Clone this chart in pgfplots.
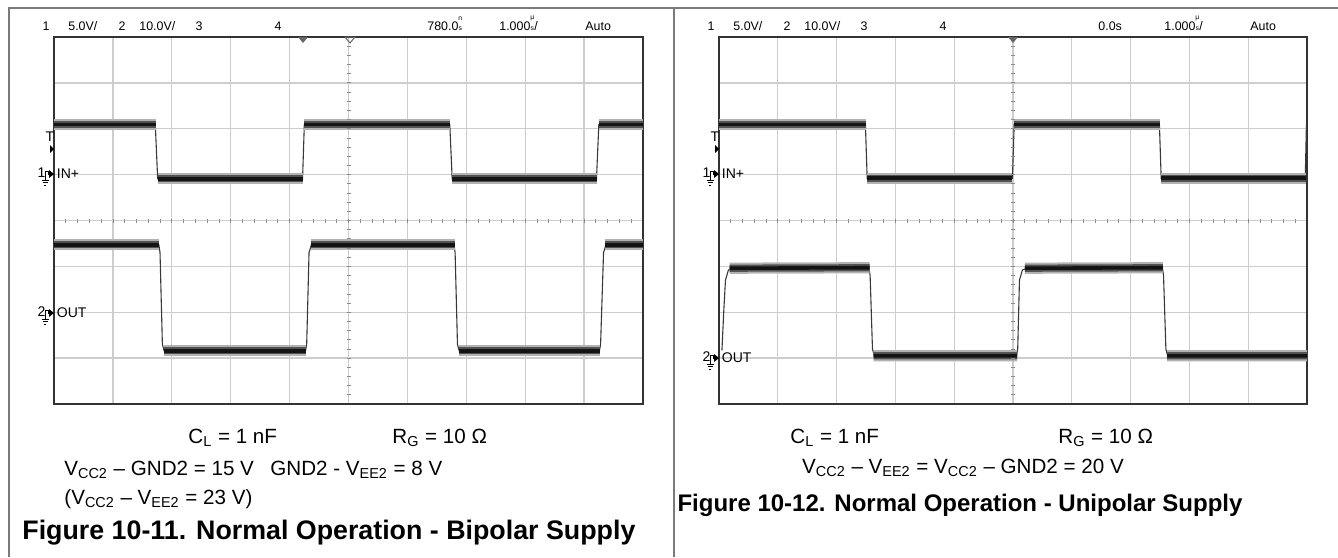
\documentclass[border=0pt]{standalone}
\usepackage{fontspec}
\setmainfont{Liberation Sans}
\usepackage{pgfplots}
\usepackage{pgfplotstable}
\pgfplotsset{compat=1.18}
\definecolor{gridc}{HTML}{CDCDCD}
\definecolor{framec}{HTML}{7A7A7A}
\newcommand\stk[2]{\raisebox{0.1ex}{\fontsize{3.4pt}{3.4pt}\selectfont\shortstack{#1\\#2}}}
\newcommand\hdr{\fontsize{6.2pt}{7pt}\selectfont}
\newcommand\lbl{\fontsize{7pt}{8pt}\selectfont}
\newcommand\body{\fontsize{10.3pt}{12pt}\selectfont}

\pgfplotsset{oscope/.style={
  scale only axis, width=294.5pt, height=183.5pt,
  xmin=0, xmax=10, ymin=-4, ymax=4,
  xtick={0,...,10}, ytick={-4,...,4},
  xticklabels={}, yticklabels={}, major tick length=0pt,
  grid=major, major grid style={gridc, line width=0.65pt},
  axis line style={draw=black!80, line width=0.9pt},
  anchor=north west, clip=true, unbounded coords=jump,
},
fuzz/.style={draw=black!30, line width=5.6pt, line cap=butt},
band/.style={draw=black!68, line width=3.6pt, line cap=butt},
core/.style={draw=black!92, line width=1.8pt, line cap=butt},
edge/.style={draw=black!78, line width=0.55pt},
}

% ---------- Figure 10-11 (bipolar) ----------
\pgfplotstableread{
x y
0 2.09
1.72 2.09
1.76 0.91
4.22 0.91
4.25 2.09
6.72 2.09
6.76 0.91
9.21 0.91
9.25 2.09
10 2.09
}\LAfull
\pgfplotstableread{
x y
0 2.09
1.73 2.09
1.74 nan
1.76 0.91
4.22 0.91
4.23 nan
4.25 2.09
6.73 2.09
6.74 nan
6.76 0.91
9.22 0.91
9.23 nan
9.25 2.09
10 2.09
}\LAseg
\pgfplotstableread{
x y
0 -0.53
1.78 -0.53
1.80 -0.70
1.84 -2.70
1.87 -2.84
4.27 -2.84
4.29 -2.70
4.33 -0.70
4.37 -0.53
6.79 -0.53
6.81 -0.70
6.85 -2.70
6.88 -2.84
9.26 -2.84
9.28 -2.70
9.33 -0.70
9.37 -0.53
10 -0.53
}\LBfull
\pgfplotstableread{
x y
0 -0.53
1.79 -0.53
1.80 nan
1.86 -2.84
4.28 -2.84
4.29 nan
4.36 -0.53
6.80 -0.53
6.81 nan
6.87 -2.84
9.27 -2.84
9.28 nan
9.36 -0.53
10 -0.53
}\LBseg

% ---------- Figure 10-12 (unipolar) ----------
\pgfplotstableread{
x y
0 2.09
2.49 2.09
2.52 0.92
4.99 0.92
5.02 2.09
7.49 2.09
7.52 0.92
9.97 0.92
9.99 2.09
10 2.09
}\RAfull
\pgfplotstableread{
x y
0 2.09
2.50 2.09
2.51 nan
2.52 0.92
4.99 0.92
5.00 nan
5.02 2.09
7.50 2.09
7.51 nan
7.52 0.92
9.98 0.92
}\RAseg
\pgfplotstableread{
x y
0.05 -2.83
0.08 -2.00
0.11 -1.30
0.16 -1.08
0.26 -1.03
2.55 -1.03
2.57 -1.20
2.61 -2.80
2.64 -2.95
5.06 -2.95
5.08 -2.80
5.11 -1.30
5.16 -1.08
5.26 -1.03
7.54 -1.03
7.56 -1.20
7.60 -2.80
7.63 -2.95
10 -2.95
}\RBfull
\pgfplotstableread{
x y
0.18 -1.04
2.56 -1.03
2.57 nan
2.63 -2.95
5.07 -2.95
5.08 nan
5.20 -1.04
7.55 -1.03
7.56 nan
7.62 -2.95
10 -2.95
}\RBseg

\begin{document}
\begin{tikzpicture}
\useasboundingbox (0,0) rectangle (669pt,-278.5pt);

% ----- left axis -----
\begin{axis}[oscope, at={(27pt,-18.5pt)}]
\addplot[edge] table {\LAfull};
\addplot[fuzz] table {\LAseg};
\addplot[band] table {\LAseg};
\addplot[core] table {\LAseg};
\addplot[edge] table {\LBfull};
\addplot[fuzz] table {\LBseg};
\addplot[band] table {\LBseg};
\addplot[core] table {\LBseg};
\end{axis}

% ----- right axis -----
\begin{axis}[oscope, width=294pt, at={(359.5pt,-18.5pt)}]
\addplot[edge] table {\RAfull};
\addplot[fuzz] table {\RAseg};
\addplot[band] table {\RAseg};
\addplot[core] table {\RAseg};
\addplot[edge] table {\RBfull};
\addplot[fuzz] table {\RBseg};
\addplot[band] table {\RBseg};
\addplot[core] table {\RBseg};
\end{axis}

\begin{scope}[x=0.5pt, y=-0.5pt]
% frames
\draw[framec, line width=0.8pt] (9,557) -- (9,8) -- (1338,8);
\draw[framec, line width=0.8pt] (674,8) -- (674,557);

% graticule centre ticks
\foreach \ox/\w in {54/58.9, 719/58.8} {
  \foreach \i in {1,...,49} {
    \draw[black!45, line width=0.4pt] ({\ox+\i*\w/5},218.5) -- ++(0,4);
  }
  \foreach \j in {1,...,39} {
    \draw[black!45, line width=0.4pt] ({\ox+5*\w-2},{37+\j*45.875/5}) -- ++(4,0);
  }
}

% header texts
\foreach \ox in {0,665} {
  \begin{scope}[xshift=\ox*0.5pt]
  \node[anchor=base, inner sep=0, font=\hdr] at (46,31) {1};
  \node[anchor=base west, inner sep=0, font=\hdr] at (68,31) {5.0V/};
  \node[anchor=base, inner sep=0, font=\hdr] at (122,31) {2};
  \node[anchor=base west, inner sep=0, font=\hdr] at (139,31) {10.0V/};
  \node[anchor=base, inner sep=0, font=\hdr] at (199,31) {3};
  \node[anchor=base, inner sep=0, font=\hdr] at (278,31) {4};
  \node[anchor=base west, inner sep=0, font=\hdr] at (499,31) {1.000\stk{µ}{s}/};
  \node[anchor=base west, inner sep=0, font=\hdr] at (585,31) {Auto};
  % trigger level marker
  \node[inner sep=0, font=\lbl] at (50,137) {T};
  \fill[black] (50,145) -- (54,149) -- (50,153) -- cycle;
  \end{scope}
}
\node[anchor=base west, inner sep=0, font=\hdr] at (427,31) {780.0\stk{n}{s}};
\node[anchor=base west, inner sep=0, font=\hdr] at (1098,31) {0.0s};

% trigger position markers
\fill[black!60] (298,37) -- (308,37) -- (303,43) -- cycle;
\draw[black!60, line width=0.5pt] (345,37) -- (355,37) -- (350,43) -- cycle;
\fill[black!60] (1008,37) -- (1018,37) -- (1013,43) -- cycle;

% ground markers
\foreach \gx/\gy/\num/\name in {0/174/1/IN+, 0/313/2/OUT, 665/174/1/IN+, 665/358/2/OUT} {
  \begin{scope}[xshift=\gx*0.5pt]
  \node[inner sep=0, font=\lbl] at (41.5,\gy-1) {\num};
  \draw[black, line width=0.45pt] (45,\gy+2) -- (45,\gy-3) -- (48.5,\gy-3) -- (48.5,\gy+1);
  \draw[black, line width=0.45pt] (45,\gy+2) -- (45,\gy+6);
  \draw[black, line width=0.45pt] (41.5,\gy+6) -- (48.5,\gy+6);
  \draw[black, line width=0.45pt] (42.5,\gy+8.5) -- (47.5,\gy+8.5);
  \draw[black, line width=0.45pt] (43.7,\gy+11) -- (46.3,\gy+11);
  \fill[black] (49,\gy-4) -- (54,\gy) -- (49,\gy+4) -- cycle;
  \node[anchor=west, inner sep=0, font=\lbl] at (56.5,\gy) {\name};
  \end{scope}
}

% bottom texts, left
\node[anchor=west, inner sep=0, font=\body] at (188,438) {C\textsubscript{L} = 1 nF};
\node[anchor=west, inner sep=0, font=\body] at (392,438) {R\textsubscript{G} = 10 Ω};
\node[anchor=west, inner sep=0, font=\body] at (64,470) {V\textsubscript{CC2} – GND2 = 15 V};
\node[anchor=west, inner sep=0, font=\body] at (270,470) {GND2 - V\textsubscript{EE2} = 8 V};
\node[anchor=west, inner sep=0, font=\body] at (64,499) {(V\textsubscript{CC2} – V\textsubscript{EE2} = 23 V)};
\node[anchor=west, inner sep=0, font=\bfseries\fontsize{13.4pt}{15pt}\selectfont] at (22,533) {Figure 10-11. Normal Operation - Bipolar Supply};

% bottom texts, right
\node[anchor=west, inner sep=0, font=\body] at (790,438) {C\textsubscript{L} = 1 nF};
\node[anchor=west, inner sep=0, font=\body] at (1058,438) {R\textsubscript{G} = 10 Ω};
\node[inner sep=0, font=\body] at (963,468) {V\textsubscript{CC2} – V\textsubscript{EE2} = V\textsubscript{CC2} – GND2 = 20 V};
\node[inner sep=0, font=\bfseries\fontsize{12pt}{14pt}\selectfont] at (960,505) {Figure 10-12. Normal Operation - Unipolar Supply};
\end{scope}
\end{tikzpicture}
\end{document}
